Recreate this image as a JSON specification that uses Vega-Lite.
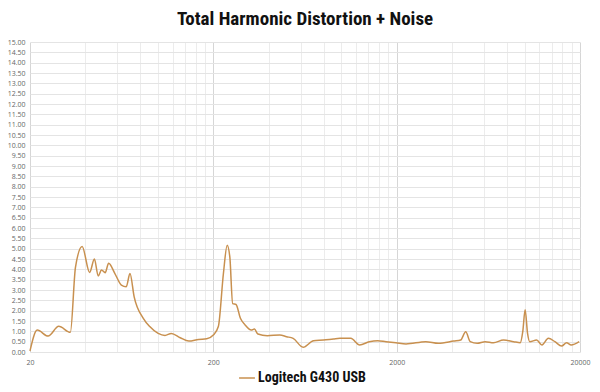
{
  "$schema": "https://vega.github.io/schema/vega-lite/v6.json",
  "autosize": "none",
  "width": 550,
  "height": 310,
  "padding": {"left": 30, "top": 42, "right": 20, "bottom": 40},
  "background": "white",
  "title": {
    "text": "Total Harmonic Distortion + Noise",
    "font": "Roboto Condensed, Roboto, sans-serif",
    "fontSize": 19,
    "fontWeight": "bold",
    "color": "#111111",
    "offset": 9,
    "anchor": "middle"
  },
  "data": {
    "values": [
      {"f": 20, "v": 0.05, "s": "Logitech G430 USB"},
      {"f": 21.9, "v": 1.06, "s": "Logitech G430 USB"},
      {"f": 25.1, "v": 0.77, "s": "Logitech G430 USB"},
      {"f": 28.7, "v": 1.24, "s": "Logitech G430 USB"},
      {"f": 33.2, "v": 0.95, "s": "Logitech G430 USB"},
      {"f": 35.4, "v": 4.1, "s": "Logitech G430 USB"},
      {"f": 38.5, "v": 5.1, "s": "Logitech G430 USB"},
      {"f": 42.3, "v": 3.85, "s": "Logitech G430 USB"},
      {"f": 44.9, "v": 4.5, "s": "Logitech G430 USB"},
      {"f": 47.1, "v": 3.68, "s": "Logitech G430 USB"},
      {"f": 49.1, "v": 3.97, "s": "Logitech G430 USB"},
      {"f": 51.4, "v": 3.84, "s": "Logitech G430 USB"},
      {"f": 53.7, "v": 4.29, "s": "Logitech G430 USB"},
      {"f": 58, "v": 3.81, "s": "Logitech G430 USB"},
      {"f": 63, "v": 3.24, "s": "Logitech G430 USB"},
      {"f": 67, "v": 3.16, "s": "Logitech G430 USB"},
      {"f": 70.2, "v": 3.8, "s": "Logitech G430 USB"},
      {"f": 74, "v": 2.67, "s": "Logitech G430 USB"},
      {"f": 83, "v": 1.63, "s": "Logitech G430 USB"},
      {"f": 90, "v": 1.23, "s": "Logitech G430 USB"},
      {"f": 100, "v": 0.9, "s": "Logitech G430 USB"},
      {"f": 109, "v": 0.8, "s": "Logitech G430 USB"},
      {"f": 118, "v": 0.9, "s": "Logitech G430 USB"},
      {"f": 132, "v": 0.69, "s": "Logitech G430 USB"},
      {"f": 147, "v": 0.53, "s": "Logitech G430 USB"},
      {"f": 166, "v": 0.61, "s": "Logitech G430 USB"},
      {"f": 184, "v": 0.64, "s": "Logitech G430 USB"},
      {"f": 200, "v": 0.82, "s": "Logitech G430 USB"},
      {"f": 213, "v": 1.23, "s": "Logitech G430 USB"},
      {"f": 227, "v": 3.8, "s": "Logitech G430 USB"},
      {"f": 238, "v": 5.17, "s": "Logitech G430 USB"},
      {"f": 246, "v": 4.6, "s": "Logitech G430 USB"},
      {"f": 255, "v": 2.34, "s": "Logitech G430 USB"},
      {"f": 266, "v": 2.3, "s": "Logitech G430 USB"},
      {"f": 281, "v": 1.63, "s": "Logitech G430 USB"},
      {"f": 298, "v": 1.31, "s": "Logitech G430 USB"},
      {"f": 322, "v": 1.06, "s": "Logitech G430 USB"},
      {"f": 335, "v": 1.11, "s": "Logitech G430 USB"},
      {"f": 350, "v": 0.87, "s": "Logitech G430 USB"},
      {"f": 394, "v": 0.79, "s": "Logitech G430 USB"},
      {"f": 461, "v": 0.82, "s": "Logitech G430 USB"},
      {"f": 502, "v": 0.74, "s": "Logitech G430 USB"},
      {"f": 545, "v": 0.66, "s": "Logitech G430 USB"},
      {"f": 618, "v": 0.23, "s": "Logitech G430 USB"},
      {"f": 704, "v": 0.55, "s": "Logitech G430 USB"},
      {"f": 798, "v": 0.58, "s": "Logitech G430 USB"},
      {"f": 903, "v": 0.63, "s": "Logitech G430 USB"},
      {"f": 981, "v": 0.66, "s": "Logitech G430 USB"},
      {"f": 1124, "v": 0.66, "s": "Logitech G430 USB"},
      {"f": 1257, "v": 0.34, "s": "Logitech G430 USB"},
      {"f": 1418, "v": 0.5, "s": "Logitech G430 USB"},
      {"f": 1574, "v": 0.55, "s": "Logitech G430 USB"},
      {"f": 1750, "v": 0.5, "s": "Logitech G430 USB"},
      {"f": 1980, "v": 0.45, "s": "Logitech G430 USB"},
      {"f": 2250, "v": 0.39, "s": "Logitech G430 USB"},
      {"f": 2880, "v": 0.5, "s": "Logitech G430 USB"},
      {"f": 3380, "v": 0.42, "s": "Logitech G430 USB"},
      {"f": 4100, "v": 0.53, "s": "Logitech G430 USB"},
      {"f": 4470, "v": 0.58, "s": "Logitech G430 USB"},
      {"f": 4760, "v": 0.98, "s": "Logitech G430 USB"},
      {"f": 5040, "v": 0.5, "s": "Logitech G430 USB"},
      {"f": 5500, "v": 0.42, "s": "Logitech G430 USB"},
      {"f": 6080, "v": 0.5, "s": "Logitech G430 USB"},
      {"f": 6750, "v": 0.45, "s": "Logitech G430 USB"},
      {"f": 7650, "v": 0.58, "s": "Logitech G430 USB"},
      {"f": 8690, "v": 0.5, "s": "Logitech G430 USB"},
      {"f": 9440, "v": 0.45, "s": "Logitech G430 USB"},
      {"f": 9750, "v": 1.0, "s": "Logitech G430 USB"},
      {"f": 10040, "v": 2.04, "s": "Logitech G430 USB"},
      {"f": 10350, "v": 0.9, "s": "Logitech G430 USB"},
      {"f": 10640, "v": 0.5, "s": "Logitech G430 USB"},
      {"f": 11600, "v": 0.58, "s": "Logitech G430 USB"},
      {"f": 12400, "v": 0.34, "s": "Logitech G430 USB"},
      {"f": 13440, "v": 0.66, "s": "Logitech G430 USB"},
      {"f": 14600, "v": 0.5, "s": "Logitech G430 USB"},
      {"f": 15880, "v": 0.29, "s": "Logitech G430 USB"},
      {"f": 16900, "v": 0.45, "s": "Logitech G430 USB"},
      {"f": 17900, "v": 0.34, "s": "Logitech G430 USB"},
      {"f": 19800, "v": 0.5, "s": "Logitech G430 USB"}
    ]
  },
  "mark": {"type": "line", "interpolate": "monotone", "strokeWidth": 1.5},
  "encoding": {
    "x": {
      "field": "f",
      "type": "quantitative",
      "scale": {"type": "log", "domain": [20, 20000], "nice": false},
      "axis": {
        "title": null,
        "values": [20, 40, 60, 80, 100, 120, 140, 160, 180, 200, 400, 600, 800, 1000, 1200, 1400, 1600, 1800, 2000, 4000, 6000, 8000, 10000, 12000, 14000, 16000, 18000, 20000],
        "labelExpr": "indexof([20,200,2000,20000], datum.value) >= 0 ? datum.value : ''",
        "labelFont": "Open Sans",
        "labelFontSize": 7,
        "labelColor": "#666666",
        "labelPadding": 6,
        "labelFlush": false,
        "labelOverlap": false,
        "ticks": false,
        "domain": false,
        "gridColor": {"condition": {"test": "indexof([20,200,2000,20000], datum.value) >= 0", "value": "#d6d6d6"}, "value": "#ececec"},
        "gridWidth": 1
      }
    },
    "y": {
      "field": "v",
      "type": "quantitative",
      "scale": {"domain": [0, 15], "nice": false},
      "axis": {
        "title": null,
        "values": [0, 0.5, 1, 1.5, 2, 2.5, 3, 3.5, 4, 4.5, 5, 5.5, 6, 6.5, 7, 7.5, 8, 8.5, 9, 9.5, 10, 10.5, 11, 11.5, 12, 12.5, 13, 13.5, 14, 14.5, 15],
        "format": ".2f",
        "labelFont": "Open Sans",
        "labelFontSize": 7,
        "labelColor": "#666666",
        "labelPadding": 5,
        "labelOverlap": false,
        "ticks": false,
        "domain": false,
        "gridColor": "#e4e4e4",
        "gridWidth": 1
      }
    },
    "color": {
      "field": "s",
      "type": "nominal",
      "scale": {"range": ["#C8904F"]},
      "legend": {
        "title": null,
        "orient": "none",
        "legendX": 208,
        "legendY": 327,
        "direction": "horizontal",
        "symbolType": "stroke",
        "symbolStrokeWidth": 1.5,
        "symbolSize": 250,
        "labelFont": "Roboto Condensed, Roboto, sans-serif",
        "labelFontSize": 14,
        "labelFontWeight": "bold",
        "labelColor": "#111111",
        "labelOffset": 2
      }
    }
  },
  "config": {"view": {"stroke": null}}
}
